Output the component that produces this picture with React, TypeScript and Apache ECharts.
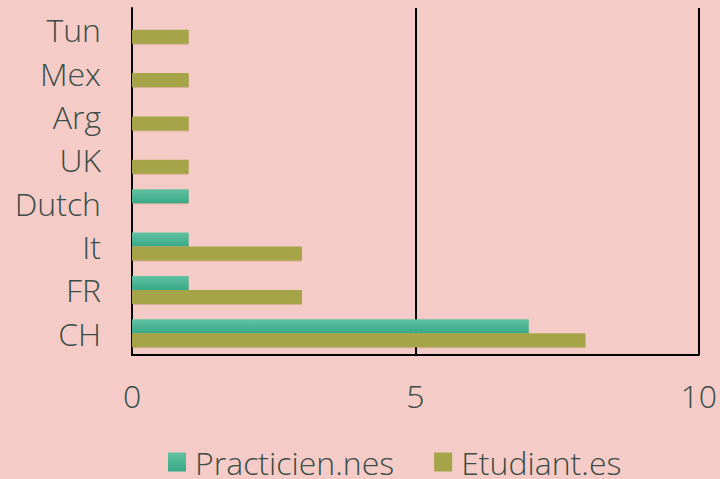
import React, { useEffect, useRef } from "react";
import * as echarts from "echarts";

const categories = ["CH", "FR", "It", "Dutch", "UK", "Arg", "Mex", "Tun"];
const practiciens = [7, 1, 1, 1, null, null, null, null];
const etudiants = [8, 3, 3, null, 1, 1, 1, 1];
const xTicks = [0, 5, 10];

const textColor = "#3b4d46";
const font = "'Open Sans', Lato, sans-serif";

export default function App() {
  const ref = useRef<HTMLDivElement>(null);
  useEffect(() => {
    const chart = echarts.init(ref.current!, null, { renderer: "svg" });
    chart.setOption({
      animation: false,
      backgroundColor: "#f5cbc7",
      grid: { left: 132, right: 17, top: 8, bottom: 124, containLabel: false },
      legend: {
        top: 446,
        left: 168,
        padding: 0,
        itemWidth: 18,
        itemHeight: 19,
        itemGap: 40,
        icon: "rect",
        textStyle: {
          color: textColor,
          fontSize: 32,
          lineHeight: 30,
          fontFamily: font,
          fontWeight: 300,
          padding: [0, 0, 0, 4],
        },
        data: ["Practicien.nes", "Etudiant.es"],
      },
      xAxis: {
        type: "value",
        min: xTicks[0],
        max: xTicks[xTicks.length - 1],
        interval: 5,
        axisLine: { show: true, lineStyle: { color: "#000", width: 2 } },
        axisTick: { show: false },
        splitLine: { show: true, lineStyle: { color: "#000", width: 2 } },
        axisLabel: {
          color: textColor,
          fontSize: 32,
          fontWeight: 300,
          fontFamily: font,
          margin: 24,
        },
      },
      yAxis: {
        type: "category",
        data: categories,
        axisLine: { show: true, lineStyle: { color: "#000", width: 2 } },
        axisTick: { show: false },
        axisLabel: {
          color: textColor,
          fontSize: 32,
          fontWeight: 300,
          fontFamily: font,
          margin: 31,
        },
      },
      series: [
        {
          name: "Practicien.nes",
          type: "bar",
          data: practiciens,
          barWidth: 14,
          barGap: "0%",
          itemStyle: {
            color: new echarts.graphic.LinearGradient(0, 0, 0, 1, [
              { offset: 0, color: "#62c2a2" },
              { offset: 1, color: "#37a886" },
            ]),
            shadowColor: "rgba(160,120,60,0.35)",
            shadowOffsetY: 1,
            shadowBlur: 1,
          },
        },
        {
          name: "Etudiant.es",
          type: "bar",
          data: etudiants,
          barWidth: 14,
          barGap: "0%",
          itemStyle: {
            color: "#a5a449",
            shadowColor: "rgba(160,120,60,0.35)",
            shadowOffsetY: 1,
            shadowBlur: 1,
          },
        },
      ],
    });
    return () => chart.dispose();
  }, []);
  return <div ref={ref} style={{ width: 720, height: 479, position: "absolute", left: 0, top: 0 }} />;
}
